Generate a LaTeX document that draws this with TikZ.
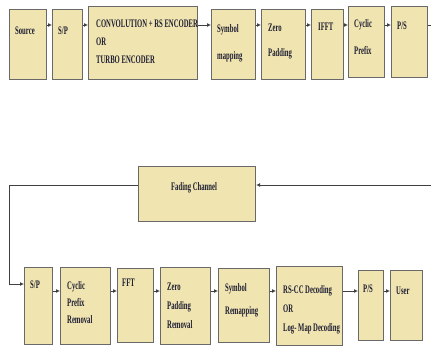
\documentclass[tikz,border=0pt]{standalone}
\usepackage{fontspec}
\usetikzlibrary{arrows.meta}
\newfontfamily\cond{Liberation Serif}[FakeStretch=0.58]
\definecolor{boxfill}{RGB}{240,228,176}
\definecolor{boxline}{RGB}{105,105,105}
\definecolor{txtcol}{RGB}{30,30,50}

\tikzset{
  blk/.style={draw=boxline, fill=boxfill, line width=1.1pt, anchor=north west, inner sep=0pt},
  lbl/.style={anchor=north west, inner sep=0pt, align=left, text=txtcol,
    font=\cond\bfseries\fontsize{11.5}{18}\selectfont},
  arr/.style={draw=black!75, line width=0.8pt, -{Latex[length=4pt,width=4pt]}}
}

\begin{document}
\begin{tikzpicture}[x=1pt, y=-1pt]

\clip (0,0) rectangle (431,347);

% Transmitter
\node[blk, minimum width=37pt, minimum height=70pt, label={[lbl,xshift=6pt,yshift=-18pt]north west:Source}] (src) at (9,9) {};
\node[blk, minimum width=30pt, minimum height=70pt, label={[lbl,xshift=6pt,yshift=-18pt]north west:S/P}] (sp) at (52,9) {};
\node[blk, minimum width=109pt, minimum height=73pt, label={[lbl,xshift=8pt,yshift=-14pt]north west:CONVOLUTION + RS ENCODER\\OR\\TURBO ENCODER}] (enc) at (88,6) {};
\node[blk, minimum width=44pt, minimum height=70pt, label={[lbl,xshift=6pt,yshift=-15pt]north west:Symbol\\[9pt]mapping}] (map) at (211,9) {};
\node[blk, minimum width=44pt, minimum height=70pt, label={[lbl,xshift=7pt,yshift=-15pt]north west:Zero\\[7pt]Padding}] (zp) at (261,9) {};
\node[blk, minimum width=32pt, minimum height=70pt, label={[lbl,xshift=7pt,yshift=-14pt]north west:IFFT}] (ifft) at (311,9) {};
\node[blk, minimum width=36pt, minimum height=71pt, label={[lbl,xshift=6pt,yshift=-13pt]north west:Cyclic\\[9pt]Prefix}] (cp) at (348,6) {};
\node[blk, minimum width=36pt, minimum height=71pt, label={[lbl,xshift=6pt,yshift=-16pt]north west:P/S}] (ps) at (391,6) {};

% Channel
\node[blk, minimum width=117pt, minimum height=55pt, label={[lbl,anchor=north,xshift=-3pt,yshift=-16pt]north:Fading Channel}] (fad) at (138,166) {};

% Receiver
\node[blk, minimum width=28pt, minimum height=77pt, label={[lbl,xshift=6pt,yshift=-14pt]north west:S/P}] (sp2) at (24,267) {};
\node[blk, minimum width=50pt, minimum height=77pt, label={[lbl,xshift=7pt,yshift=-14pt]north west:Cyclic\\[-1pt]Prefix\\[-1pt]Removal}] (cpr) at (60,267) {};
\node[blk, minimum width=36pt, minimum height=74pt, label={[lbl,xshift=5pt,yshift=-11pt]north west:FFT}] (fft) at (117,268) {};
\node[blk, minimum width=50pt, minimum height=77pt, label={[lbl,xshift=7pt,yshift=-16pt]north west:Zero\\[1pt]Padding\\[1pt]Removal}] (zpr) at (160,267) {};
\node[blk, minimum width=51pt, minimum height=74pt, label={[lbl,xshift=7pt,yshift=-15pt]north west:Symbol\\[5pt]Remapping}] (rmap) at (218,268) {};
\node[blk, minimum width=66pt, minimum height=79pt, label={[lbl,xshift=7pt,yshift=-19pt]north west:RS-CC Decoding\\[1pt]OR\\[1pt]Log- Map Decoding}] (dec) at (276,266) {};
\node[blk, minimum width=25pt, minimum height=70pt, label={[lbl,xshift=5pt,yshift=-15pt]north west:P/S}] (ps2) at (358,270) {};
\node[blk, minimum width=32pt, minimum height=70pt, label={[lbl,xshift=6pt,yshift=-17pt]north west:User}] (usr) at (390,270) {};

% Rows of arrows
\coordinate (tr) at (0,25);
\coordinate (br) at (0,291);
\draw[arr] (src.east |- tr) -- (sp.west |- tr);
\draw[arr] (sp.east |- tr) -- (enc.west |- tr);
\draw[arr] (enc.east |- tr) -- (map.west |- tr);
\draw[arr] (map.east |- tr) -- (zp.west |- tr);
\draw[arr] (zp.east |- tr) -- (ifft.west |- tr);
\draw[arr] (ifft.east |- tr) -- (cp.west |- tr);
\draw[arr] (cp.east |- tr) -- (ps.west |- tr);

\draw[arr] (sp2.east |- br) -- (cpr.west |- br);
\draw[arr] (cpr.east |- br) -- (fft.west |- br);
\draw[arr] (fft.east |- br) -- (zpr.west |- br);
\draw[arr] (zpr.east |- br) -- (rmap.west |- br);
\draw[arr] (rmap.east |- br) -- (dec.west |- br);
\draw[arr] (dec.east |- br) -- (ps2.west |- br);
\draw[arr] (ps2.east |- br) -- (usr.west |- br);

% Loop through the channel
\coordinate (rtop) at (445,25);
\coordinate (rt) at (445,185);
\coordinate (lt) at (9,185);
\coordinate (lb) at (9,284);
\draw[arr] (ps.east |- tr) -- (rtop) -- (rt) -- (fad.east |- rt);
\draw[arr] (fad.west |- lt) -- (lt) -- (lb) -- (sp2.west |- lb);

\end{tikzpicture}
\end{document}
